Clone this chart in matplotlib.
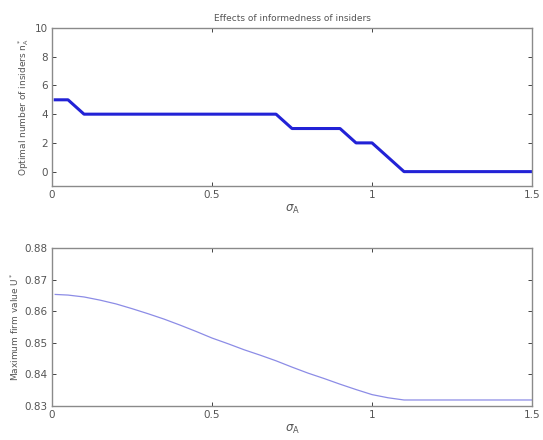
import matplotlib
matplotlib.use('Agg')
import matplotlib.pyplot as plt

# sigma_A grid
sigma = [0.01, 0.05, 0.10, 0.15, 0.20, 0.25, 0.30, 0.35, 0.40, 0.45, 0.50,
         0.55, 0.60, 0.65, 0.70, 0.75, 0.80, 0.85, 0.90, 0.95, 1.00,
         1.05, 1.10, 1.15, 1.20, 1.25, 1.30, 1.35, 1.40, 1.45, 1.50]

# optimal number of insiders
n_opt = [5, 5, 4, 4, 4, 4, 4, 4, 4, 4, 4,
         4, 4, 4, 4, 3, 3, 3, 3, 2, 2,
         1, 0, 0, 0, 0, 0, 0, 0, 0, 0]

# maximum firm value
u_max = [0.8653, 0.8651, 0.8645, 0.8635, 0.8623, 0.8608, 0.8592, 0.8575, 0.8556, 0.8536, 0.8515,
         0.8497, 0.8478, 0.8461, 0.8443, 0.8423, 0.8404, 0.8387, 0.8369, 0.8352, 0.8336,
         0.8326, 0.8319, 0.8319, 0.8319, 0.8319, 0.8319, 0.8319, 0.8319, 0.8319, 0.8319]

grey = '#555555'
frame = '#8a8a8a'

fig = plt.figure(figsize=(5.43, 4.40), dpi=100)
ax1 = fig.add_axes([0.0958, 0.5773, 0.884, 0.3591])
ax2 = fig.add_axes([0.0958, 0.0773, 0.884, 0.3591])

ax1.plot(sigma, n_opt, color='#2222d6', lw=2.2)
ax1.set_xlim(0, 1.5)
ax1.set_ylim(-1, 10)
ax1.set_yticks([0, 2, 4, 6, 8, 10])
ax1.set_xticks([0, 0.5, 1, 1.5])
ax1.set_xticklabels(['0', '0.5', '1', '1.5'])
ax1.set_title('Effects of informedness of insiders', fontsize=6.5, color=grey, pad=5)
ax1.set_xlabel(r'$\sigma_\mathrm{A}$', fontsize=8.5, color=grey, labelpad=2)
ax1.set_ylabel(r'Optimal number of insiders n$_\mathrm{A}^*$', fontsize=6.5, color=grey, labelpad=3)

ax2.plot(sigma, u_max, color='#8c8ce6', lw=0.9)
ax2.set_xlim(0, 1.5)
ax2.set_ylim(0.83, 0.88)
ax2.set_yticks([0.83, 0.84, 0.85, 0.86, 0.87, 0.88])
ax2.set_yticklabels(['0.83', '0.84', '0.85', '0.86', '0.87', '0.88'])
ax2.set_xticks([0, 0.5, 1, 1.5])
ax2.set_xticklabels(['0', '0.5', '1', '1.5'])
ax2.set_xlabel(r'$\sigma_\mathrm{A}$', fontsize=8.5, color=grey, labelpad=2)
ax2.set_ylabel(r'Maximum firm value U$^*$', fontsize=6.5, color=grey, labelpad=3)

for ax in (ax1, ax2):
    for s in ax.spines.values():
        s.set_color(frame)
        s.set_linewidth(1.0)
    ax.tick_params(direction='in', top=True, right=True, length=3, width=0.7,
                   color='#444444', labelsize=7.5, labelcolor=grey, pad=3)

fig.savefig('out.png', dpi=100)
